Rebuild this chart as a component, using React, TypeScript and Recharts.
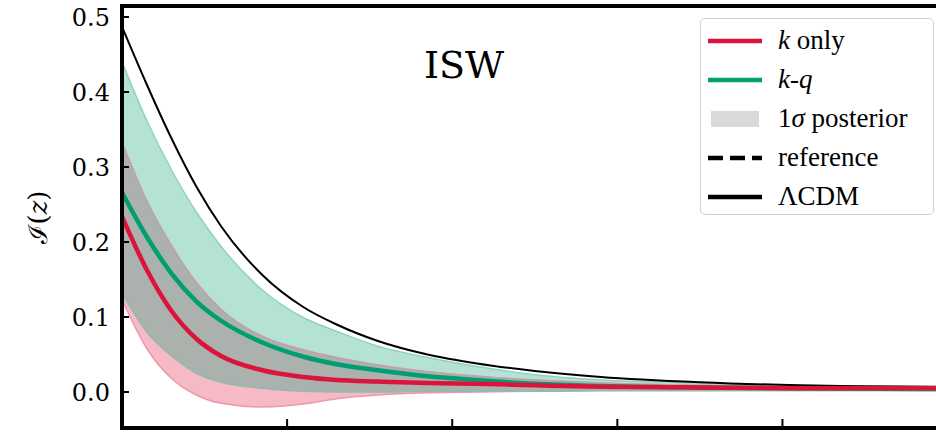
import {
  ComposedChart,
  Area,
  Line,
  XAxis,
  YAxis,
  Legend,
} from 'recharts'

// redshift grid and curves
const zGrid = [0, 0.15, 0.3, 0.45, 0.6, 0.85, 1.1, 1.3, 1.55, 1.85, 2.15, 2.5, 2.9, 3.5, 4.1, 4.93]
const lcdm = [0.487, 0.41, 0.338, 0.274, 0.221, 0.156, 0.113, 0.09, 0.068, 0.05, 0.038, 0.028, 0.02, 0.013, 0.009, 0.007]
const kq = [0.266, 0.207, 0.158, 0.121, 0.095, 0.066, 0.047, 0.037, 0.029, 0.021, 0.016, 0.011, 0.008, 0.006, 0.005, 0.004]
const kqLo = [0.132, 0.08, 0.048, 0.025, 0.013, 0.005, 0.001, 0.0, 0.0, 0.001, 0.001, 0.001, 0.002, 0.002, 0.002, 0.002]
const kqHi = [0.44, 0.362, 0.296, 0.24, 0.194, 0.136, 0.099, 0.081, 0.061, 0.046, 0.034, 0.023, 0.016, 0.012, 0.009, 0.007]
const kOnly = [0.234, 0.163, 0.108, 0.071, 0.048, 0.029, 0.02, 0.016, 0.014, 0.012, 0.011, 0.009, 0.007, 0.006, 0.005, 0.005]
const kOnlyLo = [0.123, 0.058, 0.018, -0.004, -0.015, -0.02, -0.016, -0.009, -0.004, -0.001, 0.0, 0.001, 0.002, 0.002, 0.003, 0.003]
const kOnlyHi = [0.333, 0.255, 0.195, 0.146, 0.11, 0.074, 0.056, 0.046, 0.036, 0.027, 0.021, 0.016, 0.012, 0.009, 0.007, 0.006]

const yTicks = [0, 0.1, 0.2, 0.3, 0.4, 0.5]
const xTicks = [1, 2, 3, 4]

// legend rows: label parts are [text, italic?]
const legendRows: { parts: [string, boolean][]; kind: string }[] = [
  { parts: [['k', true], [' only', false]], kind: 'red' },
  { parts: [['k', true], ['-', false], ['q', true]], kind: 'green' },
  { parts: [['1', false], ['σ', true], [' posterior', false]], kind: 'patch' },
  { parts: [['reference', false]], kind: 'dashed' },
  { parts: [['ΛCDM', false]], kind: 'solid' },
]

const RED = '#dc143c'
const GREEN = '#009e73'

const data = zGrid.map((z, i) => ({
  z,
  lcdm: lcdm[i],
  kq: kq[i],
  kOnly: kOnly[i],
  kqLo: kqLo[i],
  kOnlyHi: kOnlyHi[i],
  kqBand: [kqLo[i], kqHi[i]],
  kBand: [kOnlyLo[i], kOnlyHi[i]],
  overlap: [
    Math.max(kqLo[i], kOnlyLo[i]),
    Math.max(Math.max(kqLo[i], kOnlyLo[i]), Math.min(kqHi[i], kOnlyHi[i])),
  ],
}))

const serif = 'DejaVu Serif'

function YLabel() {
  return (
    <text
      x={38}
      y={217}
      transform="rotate(-90, 38, 217)"
      textAnchor="middle"
      dominantBaseline="central"
      fontFamily={serif}
      fontSize={26}
      fill="#000"
    >
      ℐ(<tspan fontStyle="italic">z</tspan>)
    </text>
  )
}

function Handle({ kind }: { kind: string }) {
  return (
    <svg width={56} height={20} style={{ display: 'block' }}>
      {kind === 'patch' ? (
        <rect x={4} y={2} width={48} height={16} fill="#d9d9d9" />
      ) : (
        <line
          x1={1}
          x2={55}
          y1={10}
          y2={10}
          stroke={kind === 'red' ? RED : kind === 'green' ? GREEN : '#000'}
          strokeWidth={4.5}
          strokeDasharray={kind === 'dashed' ? '15 7' : undefined}
        />
      )}
    </svg>
  )
}

function LegendBox() {
  return (
    <div
      style={{
        position: 'relative',
        width: 232,
        height: 195,
        border: '1.5px solid #d0d0d0',
        borderRadius: 5,
        background: 'rgba(255,255,255,0.85)',
        fontFamily: '"Liberation Serif", serif',
        fontSize: 27,
        color: '#000',
      }}
    >
      {legendRows.map((row, i) => (
        <div
          key={i}
          style={{
            position: 'absolute',
            left: 6,
            top: 2 + i * 39,
            height: 39,
            display: 'flex',
            alignItems: 'center',
            whiteSpace: 'pre',
          }}
        >
          <Handle kind={row.kind} />
          <span style={{ marginLeft: 15 }}>
            {row.parts.map(([t, it], j) => (
              <span key={j} style={{ fontStyle: it ? 'italic' : 'normal' }}>
                {t}
              </span>
            ))}
          </span>
        </div>
      ))}
    </div>
  )
}

export default function App() {
  return (
    <div style={{ position: 'absolute', left: 0, top: 0, width: 936, height: 432 }}>
      <ComposedChart
        width={936}
        height={432}
        data={data}
        margin={{ top: 0, right: 0, bottom: 0, left: 0 }}
      >
        <XAxis
          dataKey="z"
          type="number"
          domain={[0, 4.93]}
          ticks={xTicks}
          height={4}
          tick={{ fontSize: 1, fill: 'none' }}
          tickFormatter={() => ''}
          tickSize={-9}
          tickLine={{ stroke: '#000', strokeWidth: 2 }}
          axisLine={{ stroke: '#000', strokeWidth: 4, strokeLinecap: 'square' }}
        />
        <XAxis
          xAxisId="top"
          orientation="top"
          dataKey="z"
          type="number"
          domain={[0, 4.93]}
          height={6}
          tick={false}
          tickLine={false}
          axisLine={{ stroke: '#000', strokeWidth: 4, strokeLinecap: 'square' }}
        />
        <YAxis
          type="number"
          domain={[-0.048, 0.5147]}
          ticks={yTicks}
          width={122}
          tickSize={-7}
          tickMargin={19}
          tickFormatter={(v: number) => v.toFixed(1)}
          tick={{ fontFamily: serif, fontSize: 24, fill: '#000' }}
          tickLine={{ stroke: '#000', strokeWidth: 2 }}
          axisLine={{ stroke: '#000', strokeWidth: 4, strokeLinecap: 'square' }}
          label={<YLabel />}
        />
        <Legend
          layout="horizontal"
          verticalAlign="middle"
          align="center"
          content={() => <LegendBox />}
          wrapperStyle={{ left: 700, top: 18, width: 235, height: 198 }}
        />
        <Area
          type="monotone"
          dataKey="kqBand"
          fill="#b4e2d4"
          fillOpacity={1}
          stroke="#8fd3bf"
          strokeWidth={1.5}
          isAnimationActive={false}
        />
        <Area
          type="monotone"
          dataKey="kBand"
          fill="#f5bac6"
          fillOpacity={1}
          stroke="#ee98ab"
          strokeWidth={1.5}
          isAnimationActive={false}
        />
        <Area
          type="monotone"
          dataKey="overlap"
          fill="#abb1ac"
          fillOpacity={1}
          stroke="none"
          isAnimationActive={false}
        />
        <Line type="monotone" dataKey="kOnlyHi" stroke="#bfa3a8" strokeWidth={1.5} dot={false} isAnimationActive={false} />
        <Line type="monotone" dataKey="kqLo" stroke="#8fbcae" strokeWidth={1.5} dot={false} isAnimationActive={false} />
        <Line type="monotone" dataKey="lcdm" stroke="#000" strokeWidth={2} dot={false} isAnimationActive={false} />
        <Line type="monotone" dataKey="kq" stroke={GREEN} strokeWidth={4.5} dot={false} isAnimationActive={false} />
        <Line type="monotone" dataKey="kOnly" stroke={RED} strokeWidth={4.5} dot={false} isAnimationActive={false} />
      </ComposedChart>
      <div
        style={{
          position: 'absolute',
          left: 364,
          top: 46,
          width: 200,
          textAlign: 'center',
          fontFamily: serif,
          fontSize: 38,
          lineHeight: 1,
          color: '#000',
        }}
      >
        ISW
      </div>
    </div>
  )
}
